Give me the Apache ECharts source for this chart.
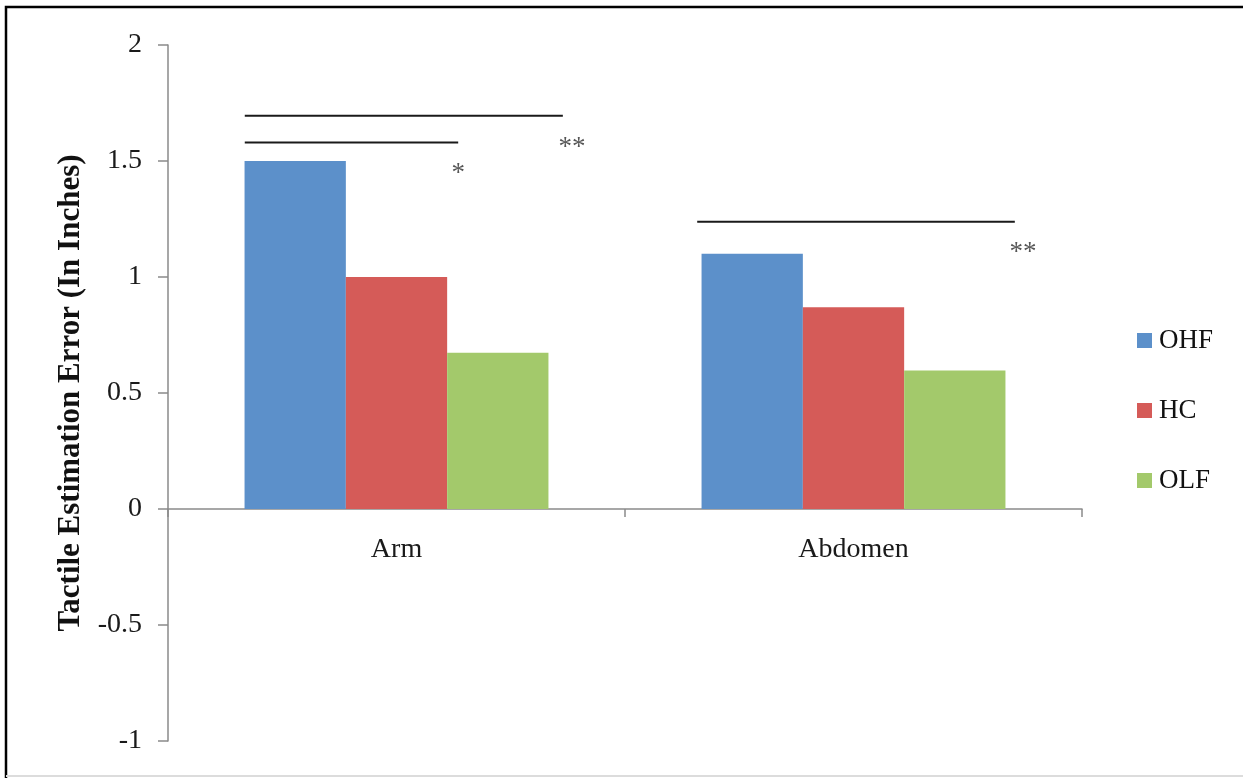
<!DOCTYPE html>
<html>
<head>
<meta charset="utf-8">
<script src="https://cdn.jsdelivr.net/npm/echarts@6/dist/echarts.min.js"></script>
<style>
html,body{margin:0;padding:0;background:#fff;}
#chart{width:1243px;height:778px;}
</style>
</head>
<body>
<div id="chart"></div>
<script>
// ---- data ----
const categories = ['Arm', 'Abdomen'];
const seriesNames = ['OHF', 'HC', 'OLF'];
const ohf = [1.5, 1.1];
const hc = [1.0, 0.87];
const olf = [0.673, 0.597];
const yTicks = [-1, -0.5, 0, 0.5, 1, 1.5, 2];
// significance brackets in (category-position, value) space: [x1, x2, y]
const sigLines = [[0.168, 0.864, 1.695], [0.168, 0.635, 1.58], [1.158, 1.853, 1.238]];
// significance marks: [x, y, text]
const sigMarks = [[0.884, 1.583, '**'], [0.635, 1.471, '*'], [1.871, 1.131, '**']];

const colors = ['#5C90CA', '#D55B58', '#A3C96B'];
const font = 'Liberation Serif';

const gridTop = 45, gridBottom = 37, H = 778;
const plotH = H - gridTop - gridBottom;
const yMin = yTicks[0], yMax = yTicks[yTicks.length - 1];
const zeroOffset = -plotH * (0 - yMin) / (yMax - yMin);

const chart = echarts.init(document.getElementById('chart'));

const barSeries = [ohf, hc, olf].map((d, i) => ({
  name: seriesNames[i],
  type: 'bar',
  data: d,
  barGap: '0%',
  barCategoryGap: '33.5%',
  itemStyle: { color: colors[i] },
  xAxisIndex: 0,
  yAxisIndex: 0
}));

const lineSeries = sigLines.map(l => ({
  type: 'line',
  xAxisIndex: 1,
  yAxisIndex: 0,
  data: [[l[0], l[2]], [l[1], l[2]]],
  symbol: 'none',
  silent: true,
  lineStyle: { color: '#1a1a1a', width: 2 },
  z: 5
}));

const markSeries = {
  type: 'scatter',
  xAxisIndex: 1,
  yAxisIndex: 0,
  data: sigMarks.map(m => ({ value: [m[0], m[1]], name: m[2] })),
  symbolSize: 0,
  silent: true,
  label: {
    show: true,
    position: 'inside',
    offset: [0, 6],
    formatter: p => p.name,
    fontFamily: font,
    fontSize: 27,
    color: '#2a2a2a'
  }
};

chart.setOption({
  animation: false,
  backgroundColor: '#fff',
  grid: { left: 168, top: gridTop, right: 161, bottom: gridBottom, containLabel: false, outerBoundsMode: 'none' },
  legend: {
    data: seriesNames,
    orient: 'vertical',
    left: 1137,
    top: 327,
    padding: 0,
    itemWidth: 15,
    itemHeight: 15,
    itemGap: 43,
    icon: 'rect',
    textStyle: { fontFamily: font, fontSize: 27, color: '#111', lineHeight: 15, padding: [5, 0, 0, 2] }
  },
  xAxis: [{
    type: 'category',
    data: categories,
    offset: zeroOffset,
    axisLine: { onZero: false, lineStyle: { color: '#8a8a8a', width: 1.5 } },
    axisTick: { show: true, length: 8, lineStyle: { color: '#8a8a8a', width: 1.5 } },
    axisLabel: { fontFamily: font, fontSize: 28, color: '#1a1a1a', margin: 27 },
    splitLine: { show: false }
  }, {
    type: 'value',
    min: 0,
    max: 2,
    show: false,
    position: 'top'
  }],
  yAxis: {
    type: 'value',
    min: yMin,
    max: yMax,
    interval: 0.5,
    name: 'Tactile Estimation Error (In Inches)',
    nameLocation: 'middle',
    nameGap: 82,
    nameTextStyle: { fontFamily: font, fontSize: 31, fontWeight: 'bold', color: '#111' },
    axisLine: { show: true, onZero: false, lineStyle: { color: '#8a8a8a', width: 1.5 } },
    axisTick: { show: true, length: 10, lineStyle: { color: '#8a8a8a', width: 1.5 } },
    axisLabel: { fontFamily: font, fontSize: 28, color: '#1a1a1a', margin: 26 },
    splitLine: { show: false }
  },
  graphic: [
    { type: 'polyline', shape: { points: [[6, 778], [6, 7], [1243, 7]] }, style: { stroke: '#000', lineWidth: 2.5, fill: null }, silent: true },
    { type: 'line', shape: { x1: 6, y1: 776, x2: 1243, y2: 776 }, style: { stroke: '#dcdcdc', lineWidth: 2 }, silent: true }
  ],
  series: barSeries.concat(lineSeries, [markSeries])
});
</script>
</body>
</html>
